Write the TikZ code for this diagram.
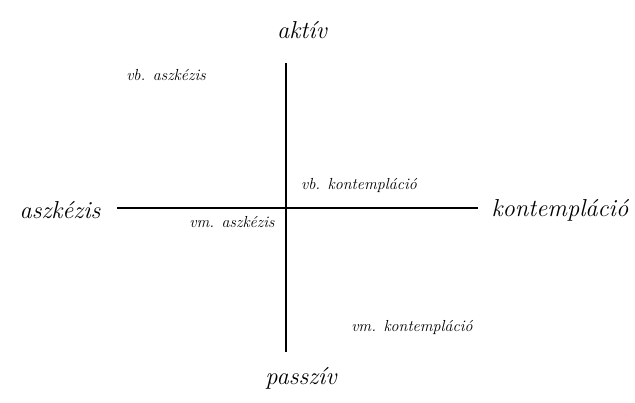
\documentclass[tikz,border=0pt]{standalone}
\begin{document}
\begin{tikzpicture}[x=1pt,y=-1pt,
  axis/.style={line width=1.6pt},
  big/.style={font=\fontsize{24.5}{28}\selectfont\itshape, inner sep=0pt},
  small/.style={font=\fontsize{16}{18}\selectfont\itshape, inner sep=0pt}]
\useasboundingbox (0,0) rectangle (635,403);
\coordinate (vt) at (286,63);
\coordinate (vb) at (286,352);
\coordinate (hl) at (117,208);
\coordinate (hr) at (478,208);
\draw[axis] (vt) -- (vb);
\draw[axis] (hl) -- (hr);
\node[big] (akt) at (302,30) {aktív};
\node[big] (pas) at (301,378) {passzív};
\node[big] (asz) at (60,210) {aszkézis};
\node[big] (kon) at (560,210) {kontempláció};
\node[small] (vba) at (166,75) {vb. aszkézis};
\node[small] (vbk) at (359,185) {vb. kontempláció};
\node[small] (vma) at (232,222) {vm. aszkézis};
\node[small] (vmk) at (412,327) {vm. kontempláció};
\end{tikzpicture}
\end{document}
